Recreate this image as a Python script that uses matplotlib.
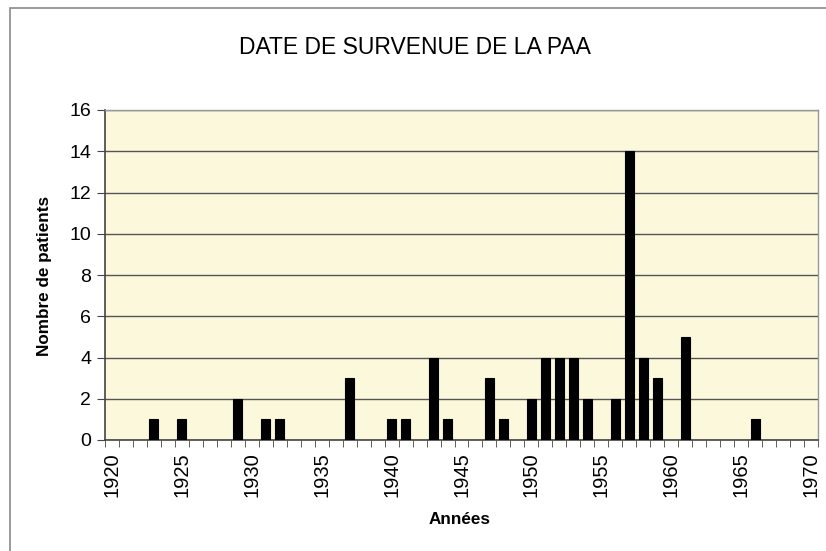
import matplotlib
matplotlib.use("Agg")
import matplotlib.pyplot as plt
import numpy as np
from matplotlib.patches import Rectangle

years = [1923, 1925, 1929, 1931, 1932, 1937, 1940, 1941, 1943, 1944, 1947, 1948,
         1950, 1951, 1952, 1953, 1954, 1956, 1957, 1958, 1959, 1961, 1966]
patients = [1, 1, 2, 1, 1, 3, 1, 1, 4, 1, 3, 1,
            2, 4, 4, 4, 2, 2, 14, 4, 3, 5, 1]
x_labels = [1920, 1925, 1930, 1935, 1940, 1945, 1950, 1955, 1960, 1965, 1970]
y_ticks = [0, 2, 4, 6, 8, 10, 12, 14, 16]

plt.rcParams['font.family'] = ['Liberation Sans', 'DejaVu Sans']

fig = plt.figure(figsize=(8.26, 5.51), dpi=100)
fig.patch.set_facecolor('white')

# outer chart frame
fig.patches.append(Rectangle((10/826, -0.02), 1.05, 1 - 8/551 + 0.02,
                             transform=fig.transFigure, fill=False,
                             edgecolor='#8a8a8a', lw=1.2))

ax = fig.add_axes([105/826, 1 - 440/551, (818 - 105)/826, (440 - 110)/551])
ax.set_facecolor('#FBF8DC')

ax.bar(years, patients, width=0.64, color='black', edgecolor='black',
       linewidth=0.8, zorder=3)

ax.set_xlim(1919.5, 1970.5)
ax.set_ylim(0, 16)
ax.set_yticks(y_ticks)
ax.set_yticklabels([str(v) for v in y_ticks], fontsize=14)
ax.yaxis.grid(True, color='#555555', lw=1, zorder=1)
ax.set_axisbelow(True)

ax.set_xticks(x_labels)
ax.set_xticklabels([str(v) for v in x_labels], rotation=90, fontsize=14.5)
ax.tick_params(axis='x', which='major', length=0, pad=9)
ax.set_xticks(np.arange(1919.5, 1971.0, 1.0), minor=True)
ax.tick_params(axis='x', which='minor', length=5, direction='out', color='#444444')
ax.tick_params(axis='y', which='major', length=6, direction='out', color='#444444', pad=4)

for s in ['top', 'right']:
    ax.spines[s].set_color('#9a9a9a')
    ax.spines[s].set_linewidth(1)
for s in ['left', 'bottom']:
    ax.spines[s].set_color('#444444')
    ax.spines[s].set_linewidth(1.2)

fig.text(415/826, 1 - 48/551, 'DATE DE SURVENUE DE LA PAA',
         ha='center', va='center', fontsize=16.5)
fig.text(45/826, 1 - 276/551, 'Nombre de patients', rotation=90,
         ha='center', va='center', fontsize=12.3, fontweight='bold')
fig.text(460/826, 1 - 519/551, 'Années', ha='center', va='center',
         fontsize=12.3, fontweight='bold')

fig.savefig('out.png', dpi=100)
